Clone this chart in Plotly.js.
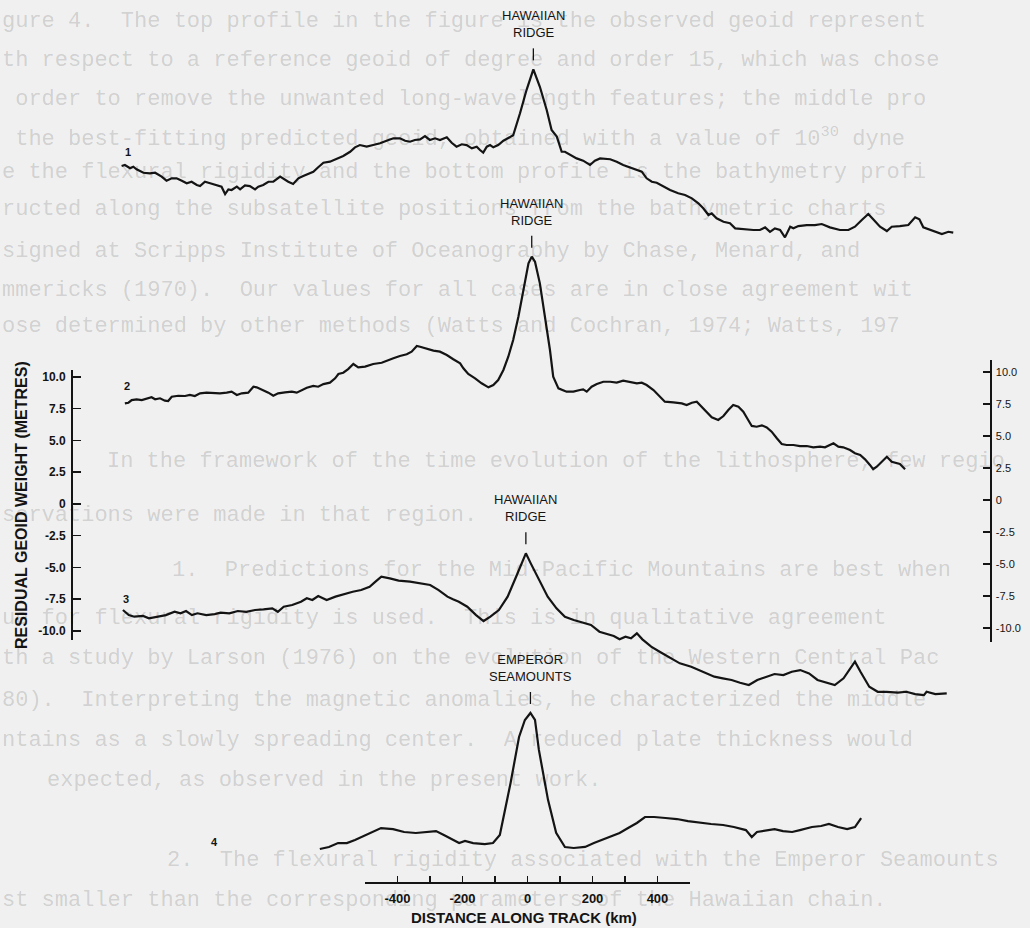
<!DOCTYPE html>
<html>
<head>
<meta charset="utf-8">
<script src="https://cdn.plot.ly/plotly-3.0.1.min.js"></script>
<style>html,body{margin:0;padding:0;background:#f0f0f0;}#chart{width:1030px;height:928px;}</style>
</head>
<body>
<div id="chart"></div>
<script>
// ---------- DATA (distance along track in km, residual geoid in metres as plotted) ----------
const profileNumbers = ["1", "2", "3", "4"];
const featureNames = ["HAWAIIAN<br>RIDGE", "HAWAIIAN<br>RIDGE", "HAWAIIAN<br>RIDGE", "EMPEROR<br>SEAMOUNTS"];

const distanceKm1 = [-1247,-1237,-1221,-1211,-1201,-1180,-1160,-1144,-1124,-1109,
 -1093,-1078,-1062,-1047,-1032,-1016,-1006,-991,-975,-955,
 -940,-929,-919,-909,-893,-883,-868,-853,-837,-827,
 -812,-796,-781,-760,-745,-735,-720,-704,-689,-673,
 -658,-643,-627,-607,-586,-566,-545,-530,-515,-494,
 -474,-453,-433,-412,-392,-376,-361,-346,-330,-315,
 -300,-284,-269,-248,-233,-218,-202,-187,-171,-156,
 -146,-136,-125,-115,-105,-90,-74,-54,-44,-23,
 -3,18,38,59,74,90,105,115,131,151,
 171,192,207,223,254,274,294,320,336,351,
 366,382,397,417,438,463,484,505,525,540,
 556,566,581,602,622,638,663,694,714,730,
 745,760,776,791,807,817,832,858,883,904,
 929,960,986,1006,1027,1047,1062,1083,1104,1119,
 1144,1170,1191,1204,1216,1237,1257,1273,1293,1308];
const geoid1 = [26.60,26.68,26.42,26.54,26.34,26.07,26.02,26.07,25.76,25.44,
 25.63,25.63,25.44,25.24,25.36,25.10,25.02,25.36,25.24,25.10,
 24.97,24.39,24.76,24.71,24.97,24.76,25.08,25.02,24.76,24.97,
 25.10,25.36,25.36,25.76,25.50,25.36,25.18,25.63,25.81,26.02,
 26.15,26.50,26.86,26.94,27.20,27.39,27.72,28.07,28.25,28.12,
 28.25,28.39,28.59,28.78,28.78,28.59,28.51,28.65,28.70,28.96,
 28.65,28.78,28.65,28.86,28.43,28.12,28.31,28.25,27.99,28.12,
 27.86,27.65,28.12,28.25,28.07,28.25,28.59,28.91,29.02,30.75,
 32.58,34.21,32.84,31.01,29.43,28.91,27.72,27.72,27.46,27.20,
 27.02,26.68,27.02,27.20,27.13,26.94,26.68,26.42,26.28,26.15,
 25.63,25.36,25.28,24.97,24.71,24.45,24.32,24.05,23.66,23.27,
 22.74,22.87,22.48,22.21,22.09,21.69,21.61,21.56,21.56,21.77,
 21.42,21.69,21.56,20.98,21.82,21.69,21.87,21.95,21.95,22.03,
 21.77,21.56,21.56,21.82,22.35,22.82,22.40,21.82,21.48,21.82,
 21.87,21.95,22.56,22.40,21.77,21.56,21.42,21.24,21.42,21.35];

const distanceKm2 = [-1237,-1226,-1216,-1201,-1185,-1170,-1155,-1144,-1129,-1114,
 -1104,-1093,-1073,-1052,-1037,-1022,-1006,-986,-965,-945,
 -924,-909,-893,-878,-858,-842,-832,-812,-796,-781,
 -766,-745,-724,-709,-694,-678,-658,-643,-627,-607,
 -591,-581,-566,-551,-535,-520,-499,-474,-448,-428,
 -412,-392,-371,-356,-340,-330,-315,-289,-269,-248,
 -228,-207,-197,-182,-161,-141,-120,-105,-90,-74,
 -59,-44,-28,-13,3,13,23,38,54,69,
 79,95,120,141,161,171,182,197,213,233,
 254,274,294,315,336,351,366,387,407,422,
 448,474,489,505,520,535,551,566,586,602,
 617,632,648,663,678,689,704,720,735,750,
 766,781,796,817,837,858,878,899,914,929,
 940,955,970,991,1006,1022,1037,1052,1062,1073,
 1088,1104,1119,1134,1144,1160];
const geoid2 = [7.91,7.96,8.17,8.23,8.17,8.31,8.39,8.23,8.31,8.12,
 8.09,8.43,8.51,8.49,8.57,8.49,8.70,8.75,8.70,8.70,
 8.75,8.83,8.57,8.70,8.75,9.22,9.17,8.96,8.75,8.51,
 8.70,8.78,8.83,8.75,8.96,9.14,9.28,9.22,9.43,9.54,
 9.88,10.22,10.32,10.61,11.01,10.75,10.80,11.01,11.11,11.27,
 11.46,11.64,11.77,11.98,12.43,12.37,12.24,12.06,11.98,11.72,
 11.38,11.06,10.67,10.22,9.88,9.49,9.17,9.35,9.75,10.54,
 11.58,12.90,14.73,16.83,18.94,19.46,19.06,17.36,14.73,12.11,
 10.01,9.09,8.83,8.83,8.96,9.01,8.83,9.22,9.43,9.61,
 9.61,9.54,9.69,9.61,9.49,9.54,9.35,8.96,8.43,8.04,
 7.99,7.91,7.78,7.96,8.04,7.65,7.25,6.81,6.60,6.91,
 7.39,7.78,7.65,7.25,6.60,6.13,6.07,6.18,6.02,5.68,
 5.16,4.71,4.63,4.63,4.55,4.55,4.45,4.50,4.45,4.63,
 4.76,4.50,4.45,4.24,3.98,3.84,3.50,3.06,2.72,2.92,
 3.31,3.71,3.31,3.19,3.13,2.72];

const distanceKm3 = [-1243,-1225,-1208,-1181,-1163,-1137,-1111,-1084,-1066,-1049,
 -1031,-1014,-987,-961,-943,-916,-890,-864,-837,-811,
 -784,-767,-749,-723,-696,-678,-661,-643,-617,-590,
 -564,-537,-511,-485,-467,-449,-423,-396,-361,-326,
 -299,-273,-246,-229,-211,-185,-158,-135,-114,-88,
 -61,-35,-17,-5,10,36,62,89,115,142,
 168,195,221,239,265,283,301,318,336,353,
 380,406,433,468,503,539,574,600,627,653,
 680,706,732,759,786,812,838,865,891,918,
 944,971,988,1006,1023,1050,1076,1103,1138,1164,
 1191,1218,1226,1253,1288];
const geoid3 = [-8.36,-8.76,-8.89,-8.83,-9.02,-8.89,-8.76,-8.50,-8.62,-8.44,
 -8.76,-8.62,-8.76,-8.68,-8.57,-8.62,-8.44,-8.50,-8.36,-8.31,
 -8.23,-8.50,-8.10,-7.97,-7.71,-7.44,-7.57,-7.26,-7.57,-7.31,
 -7.10,-6.92,-6.79,-6.53,-6.13,-5.74,-5.87,-6.05,-6.13,-6.26,
 -6.39,-6.79,-7.31,-7.52,-7.71,-8.10,-8.76,-9.23,-8.89,-8.36,
 -7.31,-5.74,-4.69,-3.90,-4.69,-6.00,-7.31,-8.23,-8.89,-9.15,
 -9.36,-9.54,-10.07,-10.20,-10.41,-10.67,-10.46,-10.59,-10.20,-10.67,
 -11.25,-11.65,-12.04,-12.56,-12.83,-13.22,-13.61,-13.74,-13.87,-14.09,
 -14.27,-13.87,-13.61,-13.40,-13.48,-13.22,-13.09,-13.35,-13.87,-14.09,
 -14.27,-13.74,-13.09,-12.43,-13.22,-14.40,-14.80,-14.80,-14.87,-14.80,
 -14.98,-15.06,-14.80,-14.98,-14.92];

const distanceKm4 = [-638,-610,-582,-555,-530,-502,-475,-450,-413,-379,
 -343,-309,-281,-257,-229,-210,-192,-167,-131,-106,
 -85,-69,-52,-26,-8,9,23,35,63,88,
 115,142,177,204,229,257,283,309,336,361,
 389,424,459,493,530,564,601,634,671,689,
 705,733,759,785,813,837,874,902,926,954,
 982,1006,1025];
const geoid4 = [-27.18,-27.02,-26.71,-26.71,-26.47,-26.16,-25.84,-25.53,-25.61,-25.84,
 -25.92,-25.84,-25.77,-26.08,-26.47,-26.71,-26.55,-26.71,-26.79,-26.71,
 -26.08,-24.12,-21.98,-18.36,-17.02,-16.47,-17.02,-19.38,-23.31,-25.91,
 -27.02,-27.10,-27.02,-26.71,-26.47,-26.16,-25.92,-25.53,-25.13,-24.66,
 -24.66,-24.74,-24.82,-24.98,-25.13,-25.21,-25.29,-25.45,-25.69,-26.24,
 -25.84,-25.69,-25.61,-25.77,-25.84,-25.69,-25.45,-25.37,-25.21,-25.45,
 -25.61,-25.45,-24.74];

// axis ticks
const yTickValues = [10, 7.5, 5, 2.5, 0, -2.5, -5, -7.5, -10];
const yTickLeftText = ["10.0", "7.5", "5.0", "2.5", "0", "-2.5", "-5.0", "-7.5", "-10.0"];
const yTickRightText = ["10.0", "7.5", "5.0", "2.5", "0", "-2.5", "-5.0", "-7.5", "-10.0"];
const xTickValues = [-400, -200, 0, 200, 400];
const xTickText = ["-400", "-200", "0", "200", "400"];

// faint show-through typescript of the page behind the figure
const pageTextLines = [
 "gure 4.  The top profile in the figure is the observed geoid represent",
 "th respect to a reference geoid of degree and order 15, which was chose",
 " order to remove the unwanted long-wavelength features; the middle pro",
 " the best-fitting predicted geoid, obtained with a value of 10<sup>30</sup> dyne",
 "e the flexural rigidity and the bottom profile is the bathymetry profi",
 "ructed along the subsatellite positions from the bathymetric charts",
 "signed at Scripps Institute of Oceanography by Chase, Menard, and",
 "mmericks (1970).  Our values for all cases are in close agreement wit",
 "ose determined by other methods (Watts and Cochran, 1974; Watts, 197",
 "In the framework of the time evolution of the lithosphere, few regio",
 "servations were made in that region.",
 "1.  Predictions for the Mid-Pacific Mountains are best when",
 "ue for flexural rigidity is used.  This is in qualitative agreement",
 "th a study by Larson (1976) on the evolution of the Western Central Pac",
 "80).  Interpreting the magnetic anomalies, he characterized the middle",
 "ntains as a slowly spreading center.  A reduced plate thickness would",
 "expected, as observed in the present work.",
 "2.  The flexural rigidity associated with the Emperor Seamounts",
 "st smaller than the corresponding parameters of the Hawaiian chain."
];

// ---------- LAYOUT HELPERS ----------
const W = 1030, H = 928;
const pageTextLeft = [0,0,0,0,0,0,0,0,0,105,0,170,0,0,0,0,45,165,0];
const pageTextTop = [22,60,100,137,173,210,251,290,327,462,515,570,618,658,700,740,780,860,900];

const profiles = [
  {x: distanceKm1, y: geoid1},
  {x: distanceKm2, y: geoid2},
  {x: distanceKm3, y: geoid3},
  {x: distanceKm4, y: geoid4}
];

const ink = '#141414';
const traces = profiles.map(p => ({
  type: 'scatter', mode: 'lines', x: p.x, y: p.y,
  line: {color: ink, width: 2.2}, hoverinfo: 'skip', showlegend: false
}));
// helper traces so the scale axes are drawn
traces.push({type:'scatter', mode:'lines', x:[], y:[], xaxis:'x', yaxis:'y2', hoverinfo:'skip', showlegend:false});
traces.push({type:'scatter', mode:'lines', x:[], y:[], xaxis:'x', yaxis:'y3', hoverinfo:'skip', showlegend:false});
traces.push({type:'scatter', mode:'lines', x:[], y:[], xaxis:'x2', yaxis:'y', hoverinfo:'skip', showlegend:false});

const annotations = [];
const shapes = [];

pageTextLines.forEach((t, i) => {
  annotations.push({
    xref: 'paper', yref: 'paper', x: pageTextLeft[i] / W, y: 1 - pageTextTop[i] / H,
    xanchor: 'left', yanchor: 'middle', showarrow: false, text: t,
    font: {family: 'Liberation Mono, DejaVu Sans Mono, monospace', size: 22, color: 'rgba(0,0,0,0.15)'}
  });
});

// feature labels at each profile's peak
const labelFont = {family: 'Liberation Sans, Arial, sans-serif', size: 13, color: ink};
profiles.forEach((p, i) => {
  let k = 0;
  p.y.forEach((v, j) => { if (v > p.y[k]) k = j; });
  const px = p.x[k], py = p.y[k];
  annotations.push({x: px, y: py, xref: 'x', yref: 'y', yanchor: 'bottom', xanchor: 'center',
    yshift: 27, showarrow: false, text: featureNames[i], font: labelFont, align: 'center'});
  shapes.push({type: 'line', xref: 'x', yref: 'y', ysizemode: 'pixel', yanchor: py,
    x0: px, x1: px, y0: 9, y1: 21, line: {color: ink, width: 1.3}});
});

// profile numbers
const numberPos = [[-1227, 27.7], [-1230, 9.28], [-1233, -7.5], [-963, -26.6]];
profileNumbers.forEach((n, i) => {
  annotations.push({x: numberPos[i][0], y: numberPos[i][1], xref: 'x', yref: 'y', showarrow: false,
    text: n, font: {family: 'Liberation Sans, Arial, sans-serif', size: 11, color: ink, weight: 'bold'}});
});

// axis titles
annotations.push({xref:'paper', yref:'paper', x: 21 / W, y: 1 - 505 / H, textangle: -90, showarrow: false,
  xanchor: 'center', yanchor: 'middle', text: 'RESIDUAL GEOID WEIGHT (METRES)',
  font: {family: 'Liberation Sans, Arial, sans-serif', size: 16, color: ink, weight: 'bold'}});
annotations.push({xref:'paper', yref:'paper', x: 524 / W, y: 1 - 917 / H, showarrow: false,
  xanchor: 'center', yanchor: 'middle', text: 'DISTANCE ALONG TRACK (km)',
  font: {family: 'Liberation Sans, Arial, sans-serif', size: 15, color: ink, weight: 'bold'}});

const hidden = {visible: false, showgrid: false, zeroline: false, fixedrange: true};
const layout = {
  width: W, height: H,
  margin: {l: 0, r: 0, t: 0, b: 0, pad: 0},
  paper_bgcolor: '#f0f0f0', plot_bgcolor: 'rgba(0,0,0,0)',
  showlegend: false,
  xaxis: Object.assign({domain: [0, 1], range: [-1620.6, 1543.8]}, hidden),
  yaxis: Object.assign({domain: [0, 1], range: [-33.40, 39.67]}, hidden),
  yaxis2: {
    anchor: 'free', position: 71 / W, side: 'left',
    domain: [1 - 640 / H, 1 - 370 / H], range: [-10.72, 10.54],
    tickmode: 'array', tickvals: yTickValues, ticktext: yTickLeftText,
    ticks: 'inside', ticklen: 8, tickwidth: 1.6, tickcolor: ink,
    showline: true, linewidth: 1.8, linecolor: ink, showgrid: false, zeroline: false,
    ticklabelstandoff: 3,
    tickfont: {family: 'Liberation Sans, Arial, sans-serif', size: 12, color: ink, weight: 'bold'}
  },
  yaxis3: {
    anchor: 'free', position: 990 / W, side: 'right',
    domain: [1 - 642 / H, 1 - 360 / H], range: [-11.09, 10.94],
    tickmode: 'array', tickvals: yTickValues, ticktext: yTickRightText,
    ticks: 'inside', ticklen: 7, tickwidth: 1.4, tickcolor: ink,
    showline: true, linewidth: 1.6, linecolor: ink, showgrid: false, zeroline: false,
    ticklabelstandoff: 2,
    tickfont: {family: 'Liberation Sans, Arial, sans-serif', size: 11, color: ink}
  },
  xaxis2: {
    anchor: 'free', position: 1 - 882 / H, side: 'bottom',
    domain: [364.7 / W, 690.3 / W], range: [-501, 501],
    tickmode: 'array', tickvals: xTickValues, ticktext: xTickText,
    ticks: 'inside', ticklen: 6, tickwidth: 1.4, tickcolor: ink,
    minor: {dtick: 100, tick0: 0, ticks: 'inside', ticklen: 6, tickwidth: 1.4, tickcolor: ink, showgrid: false},
    showline: true, linewidth: 1.6, linecolor: ink, showgrid: false, zeroline: false,
    ticklabelstandoff: 4,
    tickfont: {family: 'Liberation Sans, Arial, sans-serif', size: 13, color: ink, weight: 'bold'}
  },
  annotations: annotations,
  shapes: shapes
};

Plotly.newPlot('chart', traces, layout, {staticPlot: true, displayModeBar: false});
</script>
</body>
</html>
